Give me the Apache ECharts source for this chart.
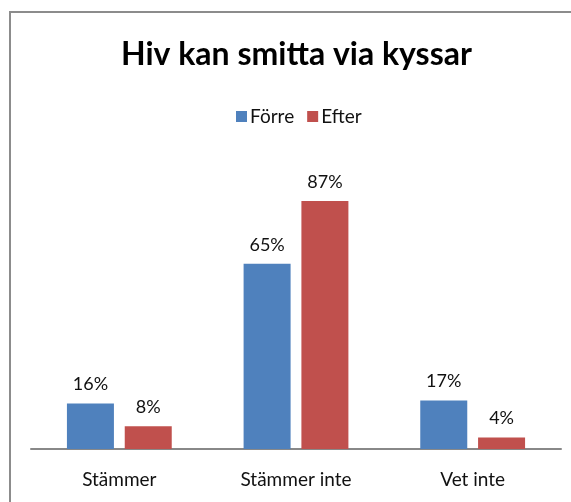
<!DOCTYPE html>
<html>
<head>
<meta charset="utf-8">
<script src="https://cdn.jsdelivr.net/npm/echarts@6/dist/echarts.min.js"></script>
<style>
  html, body { margin: 0; padding: 0; background: #fff; }
  #chart { width: 571px; height: 502px; }
</style>
</head>
<body>
<div id="chart"></div>
<script>
  var categories = ["Stämmer", "Stämmer inte", "Vet inte"];
  var forre = [16, 65, 17];
  var efter = [8, 87, 4];

  var chartDom = document.getElementById("chart");
  var myChart = echarts.init(chartDom);

  var labelStyle = {
    show: true,
    position: "top",
    distance: 10,
    formatter: "{c}%",
    fontFamily: "Lato",
    fontSize: 18,
    color: "#111",
  };

  var option = {
    animation: false,
    textStyle: { fontFamily: "Lato" },
    graphic: [
      {
        type: "rect",
        shape: { x: 10, y: 12, width: 620, height: 600 },
        style: { fill: "none", stroke: "#8c8c8c", lineWidth: 2 },
        silent: true,
      },
    ],
    title: {
      text: "Hiv kan smitta via kyssar",
      left: 116,
      top: 34,
      textStyle: { fontFamily: "Lato", fontWeight: "bold", fontSize: 32, color: "#000" },
    },
    legend: {
      top: 107,
      left: 236,
      padding: 0,
      itemWidth: 11,
      itemHeight: 11,
      itemGap: 13,
      icon: "rect",
      textStyle: { fontFamily: "Lato", fontSize: 19, color: "#111", padding: [0, 0, 0, -2] },
      data: ["Förre", "Efter"],
    },
    grid: { left: 31, right: 10, top: 164, bottom: 53 },
    xAxis: {
      type: "category",
      data: categories,
      axisLine: { lineStyle: { color: "#888", width: 2 } },
      axisTick: { show: false },
      axisLabel: { margin: 21, fontFamily: "Lato", fontSize: 19, color: "#111" },
    },
    yAxis: { type: "value", min: 0, max: 100, show: false },
    series: [
      {
        name: "Förre",
        type: "bar",
        data: forre,
        barWidth: 47,
        barGap: "23%",
        itemStyle: { color: "#4F81BD" },
        label: labelStyle,
      },
      {
        name: "Efter",
        type: "bar",
        data: efter,
        barWidth: 47,
        itemStyle: { color: "#C0504D" },
        label: labelStyle,
      },
    ],
  };

  option && myChart.setOption(option);
</script>
</body>
</html>
